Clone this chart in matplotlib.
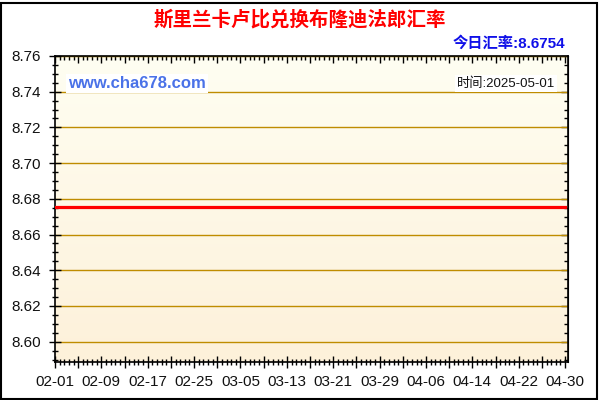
import matplotlib
matplotlib.use("Agg")
import matplotlib.pyplot as plt
import matplotlib.dates as mdates
from matplotlib.ticker import MultipleLocator, AutoMinorLocator, NullFormatter
from matplotlib.patches import Rectangle
import numpy as np
from datetime import datetime, timedelta

plt.rcParams['font.family'] = ['Liberation Sans', 'Noto Sans CJK SC', 'DejaVu Sans']

title = '斯里兰卡卢比兑换布隆迪法郎汇率'
today_text = '今日汇率:8.6754'
time_text = '时间:2025-05-01'
site_text = 'www.cha678.com'

dates = ['2025-02-01', '2025-02-15', '2025-03-01', '2025-03-15',
         '2025-03-29', '2025-04-12', '2025-04-26', '2025-04-30']
rates = [8.6754, 8.6754, 8.6754, 8.6754, 8.6754, 8.6754, 8.6754, 8.6754]
y_ticks = [8.60, 8.62, 8.64, 8.66, 8.68, 8.70, 8.72, 8.74, 8.76]

x = [datetime.strptime(d, '%Y-%m-%d') for d in dates]

fig = plt.figure(figsize=(6, 4), dpi=100)
fig.patch.set_facecolor('white')
ax = fig.add_axes([55/600, 1-362/400, (568-55)/600, (362-56)/400])

start = x[0]
end = x[-1] + timedelta(hours=12)
ax.set_xlim(start, end)
ax.set_ylim(8.5886, 8.76)

# gradient background
grad = np.linspace(0, 1, 256).reshape(-1, 1)
top_c = np.array([255, 254, 242]) / 255
bot_c = np.array([253, 241, 218]) / 255
img = top_c + (bot_c - top_c) * grad[:, :, None]
ax.imshow(img, extent=[0, 1, 0, 1], transform=ax.transAxes, aspect='auto', zorder=0)

for v in y_ticks:
    ax.axhline(v, color='#BF8C00', linewidth=1.0, zorder=1)

ax.plot(x, rates, color='#FF0000', linewidth=2.3, zorder=3)

# x ticks: labels every 8 days, ticks every 4 days, minors between
base = mdates.date2num(start)
major_pos = [base + 4 * i for i in range(23)]
ax.set_xticks(major_pos)
ax.set_xticklabels([mdates.num2date(p).strftime('%m-%d') if i % 2 == 0 else ''
                    for i, p in enumerate(major_pos)])
ax.xaxis.set_minor_locator(AutoMinorLocator(5))
ax.set_yticks(y_ticks)
ax.set_yticklabels(['%.2f' % v for v in y_ticks])
ax.yaxis.set_minor_locator(MultipleLocator(0.005))

ax.tick_params(axis='both', which='both', colors='black', labelsize=11)
ax.tick_params(axis='x', which='major', direction='inout', length=8, width=1, pad=5)
ax.tick_params(axis='x', which='minor', direction='inout', length=5, width=1)
ax.tick_params(axis='y', which='major', direction='inout', length=8, width=1, pad=6)
ax.tick_params(axis='y', which='minor', direction='inout', length=5, width=1)
for lab in ax.get_xticklabels() + ax.get_yticklabels():
    lab.set_color('#111111')
for s in ax.spines.values():
    s.set_color('black')
    s.set_linewidth(1.2)

# top and right ticks point inward only
top = ax.secondary_xaxis('top')
top.set_xticks(major_pos)
top.xaxis.set_minor_locator(AutoMinorLocator(5))
top.xaxis.set_major_formatter(NullFormatter())
top.tick_params(which='major', direction='in', length=5, width=1)
top.tick_params(which='minor', direction='in', length=3, width=1)
right = ax.secondary_yaxis('right')
right.set_yticks(y_ticks)
right.yaxis.set_minor_locator(MultipleLocator(0.005))
right.yaxis.set_major_formatter(NullFormatter())
right.tick_params(which='major', direction='in', length=5, width=1)
right.tick_params(which='minor', direction='in', length=3, width=1)

fig.text(0.5, 1-20/400, title, ha='center', va='center', fontsize=14,
         fontweight='bold', color='#FF0000')
fig.text(565/600, 1-43/400, today_text, ha='right', va='center', fontsize=11,
         fontweight='bold', color='#1010E8')
ax.text(0.025, 0.91, site_text, transform=ax.transAxes, ha='left', va='center',
        fontsize=12, fontweight='bold', color='#4A72E8',
        bbox=dict(facecolor='white', edgecolor='none', pad=1.5), zorder=4)
ax.text(0.975, 0.91, time_text, transform=ax.transAxes, ha='right', va='center',
        fontsize=9.5, color='#111111',
        bbox=dict(facecolor='white', edgecolor='none', pad=1.5), zorder=4)

fig.patches.append(Rectangle((0.5/600, 1.5/400), 596/600, 396/400, transform=fig.transFigure,
                             fill=False, edgecolor='black', linewidth=1.5))

fig.savefig('out.png', dpi=100)
